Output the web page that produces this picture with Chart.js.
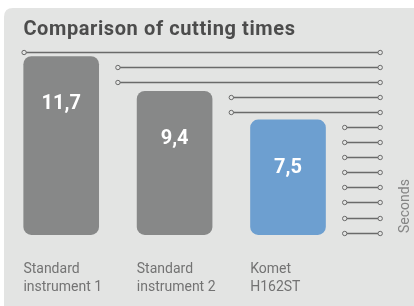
<!DOCTYPE html>
<html>
<head>
<meta charset="utf-8">
<script src="https://cdn.jsdelivr.net/npm/chart.js@4.4.0/dist/chart.umd.min.js"></script>
<style>
  html, body { margin: 0; padding: 0; background: #ffffff; }
  #wrap { width: 414px; height: 306px; position: relative; }
  canvas { display: block; }
</style>
</head>
<body>
<div id="wrap"><canvas id="c" width="414" height="306"></canvas></div>
<script>
// ---- data ----
const categories = [["Standard", "instrument 1"], ["Standard", "instrument 2"], ["Komet", "H162ST"]];
const values = [11.7, 9.4, 7.5];
const valueLabels = ["11,7", "9,4", "7,5"];
const barColors = ["#878888", "#878888", "#6d9fd0"];
const gridValues = [0, 1, 2, 3, 4, 5, 6, 7, 8, 9, 10, 11, 12];
const titleText = "Comparison of cutting times";
const unitText = "Seconds";

const BG = "#e3e4e3";

const decor = {
  id: 'decor',
  beforeDraw(chart) {
    const ctx = chart.ctx;
    ctx.save();
    ctx.fillStyle = BG;
    const x0 = 4, y0 = 8, r = 9, w = chart.width + 20, h = chart.height + 20;
    ctx.beginPath();
    ctx.moveTo(x0 + r, y0);
    ctx.lineTo(x0 + w, y0);
    ctx.lineTo(x0 + w, y0 + h);
    ctx.lineTo(x0, y0 + h);
    ctx.lineTo(x0, y0 + r);
    ctx.quadraticCurveTo(x0, y0, x0 + r, y0);
    ctx.fill();

    // grid lines with end circles
    const yScale = chart.scales.y;
    const bars = chart.getDatasetMeta(0).data;
    const n = bars.length;
    const lefts = bars.map(b => b.x - b.width / 2);
    const rights = bars.map(b => b.x + b.width / 2);
    const gap = lefts[1] - rights[0];
    const endX = chart.chartArea.right + 35.5;
    ctx.strokeStyle = "#6a6a6a";
    gridValues.forEach(v => {
      let last = -1;
      values.forEach((val, i) => { if (val >= v) last = i; });
      let startX;
      if (last === -1) startX = lefts[0] + 0.7;
      else if (last < n - 1) startX = (rights[last] + lefts[last + 1]) / 2;
      else startX = rights[last] + gap / 2;
      const y = Math.round(yScale.getPixelForValue(v)) + 0.5;
      ctx.lineWidth = 1.3;
      ctx.beginPath();
      ctx.moveTo(startX, y);
      ctx.lineTo(endX, y);
      ctx.stroke();
      ctx.lineWidth = 1;
      [startX, endX].forEach(cx => {
        ctx.beginPath();
        ctx.arc(cx, y, 2.2, 0, Math.PI * 2);
        ctx.fillStyle = BG;
        ctx.fill();
        ctx.stroke();
      });
    });
    ctx.restore();
  },
  afterDraw(chart) {
    const ctx = chart.ctx;
    const bars = chart.getDatasetMeta(0).data;
    ctx.save();
    // title
    ctx.fillStyle = "#4c4c4c";
    ctx.font = "bold 20px Roboto";
    ctx.letterSpacing = "0.6px";
    ctx.textAlign = "left";
    ctx.textBaseline = "alphabetic";
    ctx.fillText(titleText, bars[0].x - bars[0].width / 2, 34.5);
    ctx.letterSpacing = "0px";

    // value labels
    ctx.fillStyle = "#ffffff";
    ctx.font = "bold 20px Roboto";
    ctx.textAlign = "center";
    ctx.textBaseline = "middle";
    bars.forEach((b, i) => {
      ctx.fillText(valueLabels[i], b.x, b.y + 48);
    });

    // category labels
    ctx.fillStyle = "#737373";
    ctx.font = "14px Roboto";
    ctx.textAlign = "left";
    ctx.textBaseline = "alphabetic";
    bars.forEach((b, i) => {
      const lx = b.x - b.width / 2;
      categories[i].forEach((line, j) => {
        ctx.fillText(line, lx, 273 + j * 18);
      });
    });

    // unit label
    ctx.fillStyle = "#858585";
    ctx.font = "14px Roboto";
    ctx.translate(chart.chartArea.right + 60.5, 206);
    ctx.rotate(-Math.PI / 2);
    ctx.textAlign = "center";
    ctx.textBaseline = "middle";
    ctx.fillText(unitText, 0, 0);
    ctx.restore();
  }
};

new Chart(document.getElementById('c'), {
  type: 'bar',
  data: {
    labels: categories,
    datasets: [{
      data: values,
      base: -0.15,
      backgroundColor: barColors,
      borderRadius: 8,
      borderSkipped: false,
      categoryPercentage: 1,
      barPercentage: 0.667
    }]
  },
  options: {
    responsive: false,
    animation: false,
    events: [],
    layout: { padding: { left: 4.5, right: 69.3, top: 51.7, bottom: 71.1 } },
    plugins: { legend: { display: false }, tooltip: { enabled: false }, title: { display: false } },
    scales: {
      x: { display: false },
      y: { display: false, min: -0.15, max: 12 }
    }
  },
  plugins: [decor]
});
</script>
</body>
</html>
